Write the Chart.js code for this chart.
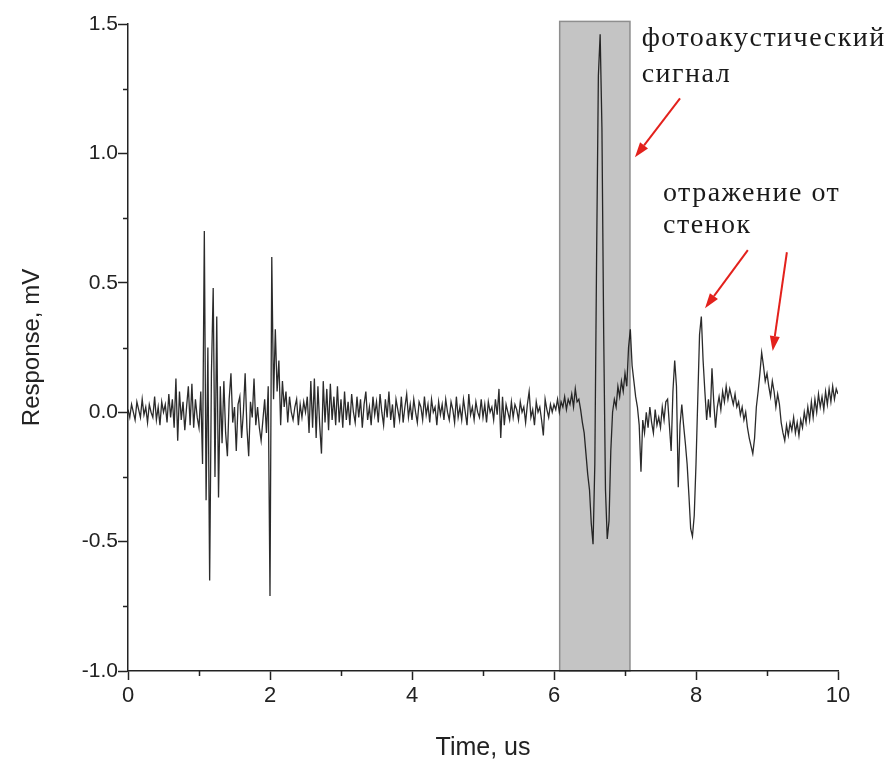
<!DOCTYPE html>
<html>
<head>
    <title>Photoacoustic response</title>
    <script src="https://cdn.jsdelivr.net/npm/chart.js"></script>
    <style>
        body { margin: 0; background: #fff; }
        #wrap { width: 893px; height: 774px; }
    </style>
</head>
<body>
    <div id="wrap"><canvas id="signalChart" width="893" height="774"></canvas></div>

    <script>
    // sampled response, one value every 0.025 us from 0 to 10 us (20 values per row = 0.5 us)
    const timeStep = 0.025;
    const response = [
        0.01, -0.02, 0.03, 0.00, -0.03, 0.04, 0.01, -0.02, 0.05, -0.01, 0.02, -0.04, 0.03, 0.00, -0.02, 0.06, -0.03, 0.02, -0.05, 0.04,
        0.00, 0.03, -0.04, 0.07, -0.02, 0.05, -0.06, 0.13, -0.11, 0.08, -0.03, 0.04, -0.07, 0.02, 0.10, -0.05, 0.11, -0.06, 0.05, -0.02,
        -0.06, 0.08, -0.20, 0.70, -0.34, 0.25, -0.65, 0.15, 0.48, -0.25, 0.37, -0.33, 0.10, -0.12, 0.12, -0.08, -0.17, 0.05, 0.15, -0.04,
        0.02, -0.15, 0.03, 0.06, -0.10, 0.00, 0.15, -0.06, -0.17, 0.04, -0.02, 0.13, -0.05, 0.02, -0.06, -0.11, -0.03, 0.05, -0.08, 0.10,
        -0.71, 0.60, 0.05, 0.32, 0.08, 0.20, -0.05, 0.12, 0.02, 0.08, -0.04, 0.06, 0.00, -0.03, 0.02, 0.05, -0.05, 0.03, -0.02, 0.04,
        0.00, 0.06, -0.08, 0.12, -0.06, 0.13, -0.10, 0.10, -0.05, -0.16, 0.12, -0.04, 0.09, -0.07, 0.11, -0.03, 0.06, -0.05, 0.10, -0.04,
        0.05, -0.06, 0.08, -0.03, 0.04, -0.05, 0.07, 0.00, -0.04, 0.06, -0.02, 0.05, -0.06, 0.03, 0.08, -0.03, 0.02, -0.05, 0.06, -0.01,
        0.04, -0.04, 0.07, 0.00, -0.05, 0.05, -0.02, 0.08, -0.03, 0.03, -0.06, 0.05, 0.01, -0.03, 0.06, -0.04, 0.02, 0.07, -0.02, 0.03,
        -0.03, 0.05, 0.00, -0.04, 0.04, 0.02, -0.03, 0.06, -0.01, 0.03, -0.04, 0.05, 0.00, 0.02, -0.05, 0.04, -0.01, 0.03, -0.03, 0.05,
        0.00, -0.03, 0.04, 0.01, -0.04, 0.06, -0.02, 0.02, -0.03, 0.05, 0.00, -0.05, 0.07, -0.01, 0.02, -0.03, 0.04, 0.00, -0.02, 0.05,
        -0.02, 0.03, -0.04, 0.04, 0.00, 0.02, -0.03, 0.05, -0.01, 0.09, -0.10, 0.06, -0.05, 0.03, 0.00, -0.03, 0.04, -0.02, 0.03, 0.01,
        -0.03, 0.04, 0.00, 0.02, -0.04, 0.03, 0.08, -0.02, 0.01, -0.05, 0.04, 0.00, 0.02, -0.03, -0.09, 0.05, 0.01, -0.02, 0.03, 0.00,
        0.03, 0.01, 0.05, 0.00, 0.04, 0.02, 0.06, 0.01, 0.05, 0.03, 0.07, 0.02, 0.09, 0.04, 0.05, 0.01, -0.04, -0.08, -0.16, -0.24,
        -0.30, -0.43, -0.51, -0.20, 0.60, 1.30, 1.46, 1.10, 0.30, -0.30, -0.49, -0.42, -0.15, 0.00, 0.05, 0.02, 0.10, 0.06, 0.12, 0.08,
        0.15, 0.10, 0.25, 0.32, 0.18, 0.12, 0.06, 0.02, -0.05, -0.23, -0.03, -0.08, 0.00, -0.06, 0.02, -0.04, -0.08, 0.01, -0.05, -0.02,
        -0.06, 0.02, -0.03, 0.04, 0.05, -0.05, -0.15, 0.08, 0.20, 0.10, -0.29, -0.05, 0.03, -0.05, -0.12, -0.20, -0.32, -0.45, -0.48, -0.40,
        -0.20, 0.05, 0.30, 0.37, 0.20, 0.08, -0.03, 0.05, -0.02, 0.17, 0.04, -0.06, 0.02, 0.06, 0.01, 0.08, 0.04, 0.10, 0.05, 0.09,
        0.06, 0.03, 0.07, 0.02, 0.04, -0.01, 0.02, -0.03, 0.00, -0.06, -0.10, -0.13, -0.16, -0.10, 0.02, 0.08, 0.15, 0.23, 0.18, 0.12,
        0.15, 0.10, 0.06, 0.12, 0.08, 0.02, 0.07, 0.03, -0.04, -0.08, -0.11, -0.05, -0.09, -0.04, -0.07, -0.02, -0.08, -0.04, -0.09, -0.03,
        -0.06, 0.00, -0.04, 0.02, -0.03, 0.04, -0.02, 0.05, 0.00, 0.07, 0.02, 0.06, 0.01, 0.08, 0.03, 0.09, 0.04, 0.10, 0.05, 0.09,
        0.07
    ];

    const xMajorTicks = [0, 2, 4, 6, 8, 10];
    const xMinorTicks = [1, 3, 5, 7, 9];
    const yMajorTicks = [-1.0, -0.5, 0.0, 0.5, 1.0, 1.5];
    const yMinorTicks = [-0.75, -0.25, 0.25, 0.75, 1.25];

    // grey window around the photoacoustic pulse: [from, to] in us, and its height in mV
    const windowTime = [6.08, 7.07];
    const windowLevel = [-1.0, 1.51];

    // labels and arrows in data coordinates (us, mV)
    const notes = [
        { text: 'фотоакустический', x: 7.235, y: 1.445 },
        { text: 'сигнал', x: 7.235, y: 1.305 },
        { text: 'отражение от', x: 7.535, y: 0.846 },
        { text: 'стенок', x: 7.535, y: 0.722 }
    ];
    const arrows = [
        { from: [7.775, 1.213], to: [7.14, 0.985] },
        { from: [8.73, 0.626], to: [8.127, 0.402] },
        { from: [9.28, 0.618], to: [9.08, 0.236] }
    ];

    const points = response.map((v, i) => ({ x: +(i * timeStep).toFixed(3), y: v }));

    const windowPlugin = {
        id: 'windowBox',
        beforeDraw(chart) {
            const { ctx, scales: { x, y } } = chart;
            const x1 = x.getPixelForValue(windowTime[0]);
            const x2 = x.getPixelForValue(windowTime[1]);
            const y1 = y.getPixelForValue(windowLevel[1]);
            const y2 = y.getPixelForValue(windowLevel[0]);
            ctx.save();
            ctx.fillStyle = '#c4c4c4';
            ctx.strokeStyle = '#8e8e8e';
            ctx.lineWidth = 1.5;
            ctx.fillRect(x1, y1, x2 - x1, y2 - y1);
            ctx.strokeRect(x1, y1, x2 - x1, y2 - y1);
            ctx.restore();
        }
    };

    const minorTickPlugin = {
        id: 'minorTicks',
        afterDraw(chart) {
            const { ctx, scales: { x, y }, chartArea } = chart;
            ctx.save();
            ctx.strokeStyle = '#222';
            ctx.lineWidth = 1.5;
            ctx.beginPath();
            xMinorTicks.forEach(v => {
                const px = Math.round(x.getPixelForValue(v)) + 0.5;
                ctx.moveTo(px, chartArea.bottom);
                ctx.lineTo(px, chartArea.bottom + 5);
            });
            yMinorTicks.forEach(v => {
                const py = Math.round(y.getPixelForValue(v)) + 0.5;
                ctx.moveTo(chartArea.left, py);
                ctx.lineTo(chartArea.left - 5, py);
            });
            ctx.stroke();
            ctx.restore();
        }
    };

    const notesPlugin = {
        id: 'notes',
        afterDatasetsDraw(chart) {
            const { ctx, scales: { x, y } } = chart;
            ctx.save();
            ctx.fillStyle = '#1a1a1a';
            ctx.font = '28px "Liberation Serif", "DejaVu Serif", serif';
            ctx.letterSpacing = '1.5px';
            ctx.textBaseline = 'middle';
            ctx.textAlign = 'left';
            notes.forEach(n => {
                ctx.fillText(n.text, x.getPixelForValue(n.x), y.getPixelForValue(n.y));
            });
            ctx.letterSpacing = '0px';

            ctx.strokeStyle = '#e3211c';
            ctx.fillStyle = '#e3211c';
            ctx.lineWidth = 2;
            arrows.forEach(a => {
                const x0 = x.getPixelForValue(a.from[0]), y0 = y.getPixelForValue(a.from[1]);
                const x1 = x.getPixelForValue(a.to[0]), y1 = y.getPixelForValue(a.to[1]);
                const ang = Math.atan2(y1 - y0, x1 - x0);
                const head = 15, half = 5;
                const bx = x1 - head * Math.cos(ang), by = y1 - head * Math.sin(ang);
                ctx.beginPath();
                ctx.moveTo(x0, y0);
                ctx.lineTo(bx, by);
                ctx.stroke();
                ctx.beginPath();
                ctx.moveTo(x1, y1);
                ctx.lineTo(bx + half * Math.sin(ang), by - half * Math.cos(ang));
                ctx.lineTo(bx - half * Math.sin(ang), by + half * Math.cos(ang));
                ctx.closePath();
                ctx.fill();
            });
            ctx.restore();
        }
    };

    const ctx = document.getElementById('signalChart').getContext('2d');
    new Chart(ctx, {
        type: 'line',
        data: {
            datasets: [{
                label: 'Response',
                data: points,
                borderColor: 'rgba(20, 20, 20, 0.9)',
                borderWidth: 1.3,
                pointRadius: 0,
                fill: false,
                tension: 0
            }]
        },
        options: {
            responsive: false,
            animation: false,
            layout: { padding: { top: 24, right: 55, left: 0, bottom: 0 } },
            plugins: {
                legend: { display: false },
                tooltip: { enabled: false }
            },
            scales: {
                x: {
                    type: 'linear',
                    min: 0,
                    max: 10,
                    afterFit: s => { s.height = 103; },
                    afterBuildTicks: s => { s.ticks = xMajorTicks.map(v => ({ value: v })); },
                    border: { color: '#222', width: 1.5 },
                    grid: { drawOnChartArea: false, tickLength: 9, tickColor: '#222', tickWidth: 1.5 },
                    ticks: {
                        padding: 3,
                        color: '#222',
                        font: { family: '"Liberation Sans", Arial, sans-serif', size: 22 },
                        callback: v => String(v)
                    },
                    title: {
                        display: true,
                        text: 'Time, us',
                        color: '#222',
                        font: { family: '"Liberation Sans", Arial, sans-serif', size: 25 },
                        padding: { top: 0, bottom: 11 }
                    }
                },
                y: {
                    min: -1.0,
                    max: 1.5,
                    afterFit: s => { s.width = 128; },
                    afterBuildTicks: s => { s.ticks = yMajorTicks.map(v => ({ value: v })); },
                    border: { color: '#222', width: 1.5 },
                    grid: { drawOnChartArea: false, tickLength: 10, tickColor: '#222', tickWidth: 1.5 },
                    ticks: {
                        padding: 0,
                        color: '#222',
                        font: { family: '"Liberation Sans", Arial, sans-serif', size: 21 },
                        callback: v => v.toFixed(1)
                    },
                    title: {
                        display: true,
                        text: 'Response, mV',
                        color: '#222',
                        font: { family: '"Liberation Sans", Arial, sans-serif', size: 24 },
                        padding: { top: 18, bottom: 0 }
                    }
                }
            }
        },
        plugins: [windowPlugin, minorTickPlugin, notesPlugin]
    });
    </script>
</body>
</html>
